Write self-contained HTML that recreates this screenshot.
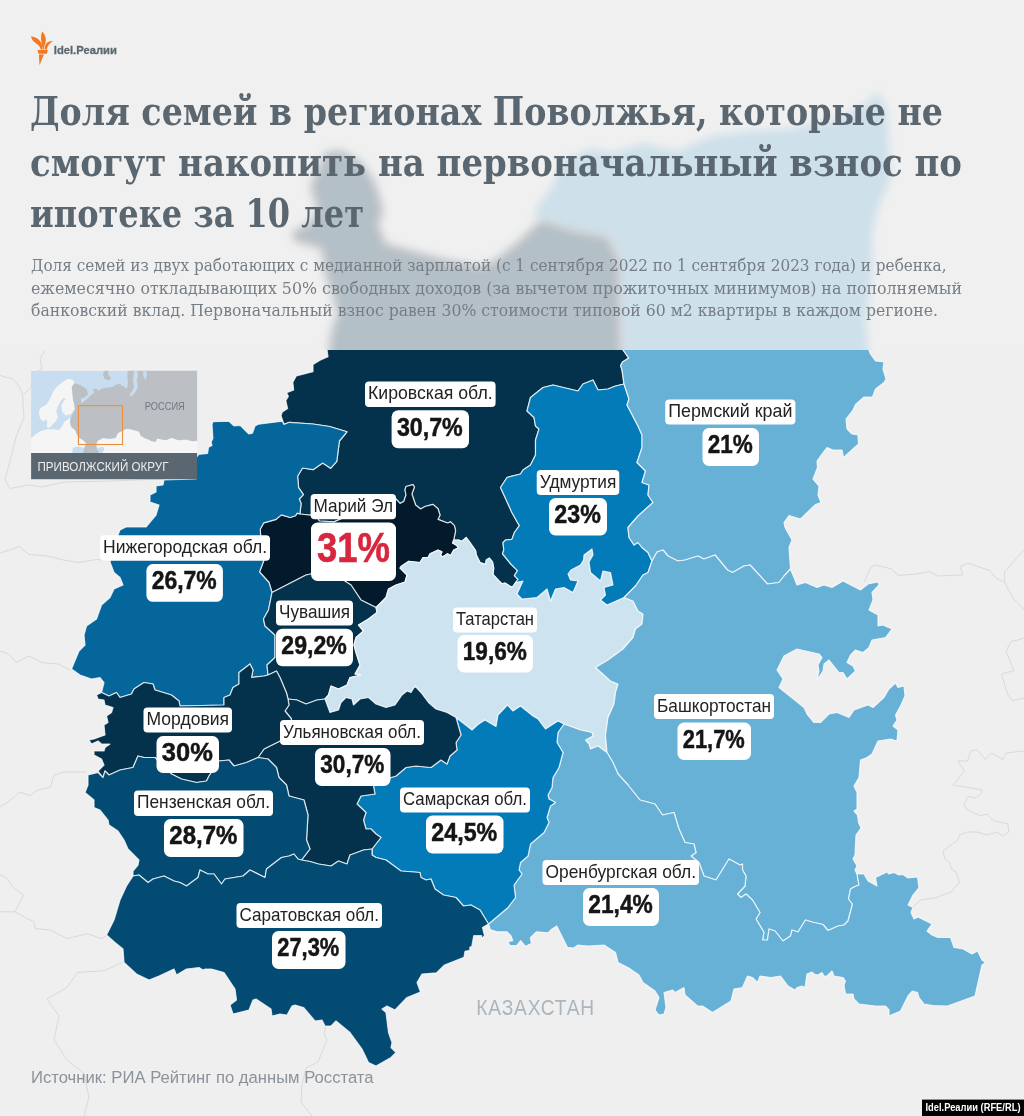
<!DOCTYPE html>
<html lang="ru"><head><meta charset="utf-8"><title>Idel.Реалии — ипотека в Поволжье</title>
<style>html,body{margin:0;padding:0;background:#efefef}svg{display:block}text{font-family:"Liberation Sans",sans-serif}.ser{font-family:"DejaVu Serif Condensed","DejaVu Serif","Liberation Serif",serif;font-stretch:condensed}.nm{font-size:18.5px;fill:#222}.vl{font-size:26.2px;font-weight:bold;fill:#151515;stroke:#151515;stroke-width:0.5px}</style></head><body>
<svg width="1024" height="1116" viewBox="0 0 1024 1116">
<defs>
<filter id="bl" x="-10%" y="-10%" width="120%" height="120%"><feGaussianBlur stdDeviation="4.3"/></filter>
<clipPath id="ctop"><rect x="0" y="0" width="1024" height="350"/></clipPath>
<clipPath id="cbot"><rect x="0" y="350" width="1024" height="770"/></clipPath>
<clipPath id="cins"><rect x="31.1" y="370.8" width="166" height="83"/></clipPath>
<g id="map" stroke="#ffffff" stroke-opacity="0.75" stroke-width="1.2" stroke-linejoin="round">
<polygon fill="#04324d" points="542,217.5 533.5,224 518.5,239 496,257.5 481,265 443.5,257.5 387,242.5 380,224 385,212.5 381.5,197.5 376,180.5 361,160 342,149 325,150.5 318,164 308.5,186 312,197.5 316,212.5 305,224 290,231 293.5,242.5 320,250 323.5,276 331,295 336,316 331,325 328,343 327.1,350.5 328,356.7 320,360.2 313,364.6 313,371.6 306,373.4 296.3,376 292.8,382.2 293.7,390 286.7,392.7 288.4,396.2 285.8,400.6 287.6,408.6 282.3,412 281,415.6 284,424.4 289.3,422.3 313,424 329.7,426.5 347,431.8 339.4,441 336.8,461.3 330.6,468.3 322.7,463 313,469.7 302.5,468 297.6,476.2 298.6,487.7 303.4,494.7 299.3,499 301.1,503.5 299.9,514 316.6,515.8 319.2,521 334.1,521.9 352,514 396,499 400,503.4 403.75,501.5 406,495 405,490 406,486.5 413,484.6 414.4,487 411.9,494 415.6,505 420.6,509 425,506.5 433,504.4 438,508.75 440,515 438,519.4 447.5,523 450.6,521.9 454.4,525.6 455.6,530.6 453.75,540 458.75,540 461.9,541.25 466.25,537.5 470,542.5 475.6,550.6 476.25,555 480,562.5 485.6,564.4 486.25,560 489.4,558 492.5,561.9 493.75,568 493,574.4 498.75,580.6 501.9,583.75 505,583 511.25,586.9 513,586.25 515.6,582.5 518,579.4 514.4,575.6 517.5,570.6 510.6,563.75 502.5,553.75 503.75,550 503,542.5 505.6,540 511.9,539.4 514.4,532.5 519.4,525.6 517.5,522.5 511.9,512.5 506.25,500 500.5,487.5 507,477.5 520.5,474 523,470 530.5,465 535.5,455 535.5,440 539,429 535.5,426 534,417.5 527,411 530.5,397.5 543,387.5 553,385 578,391 583,384 593,380 598,390 608,389 615.5,386 624,384 622,370 620.6,365.6 622.5,362 628.75,358.1 623.1,350 623,340 622,260 609.5,235 572,227.5"/>
<polygon fill="#021a2b" points="272,592.5 269,582.5 259.5,572 264,560 261,545 260.3,529 263.8,522.8 276.1,519.3 281.4,514.9 290.2,517.5 295.5,515.8 297.2,513.1 299.9,514 316.6,515.8 319.2,521 334.1,521.9 352,514 396,499 400,503.4 403.75,501.5 406,495 405,490 406,486.5 413,484.6 414.4,487 411.9,494 415.6,505 420.6,509 425,506.5 433,504.4 438,508.75 440,515 438,519.4 447.5,523 450.6,521.9 454.4,525.6 455.6,530.6 453.75,540 452.5,543 456.9,545.6 458,548 453.75,550 450.6,555.6 447.5,553.75 442.5,556.9 440.6,555 441.9,551.9 438,550 430,553.75 428,557.5 423,557.5 420,562.5 408.75,561.25 401.25,566.25 400,568 407,575 405,582 396,585 388.5,589 386,597.5 376,607.5 361,600 351,585 340,578 320,572 306,575 288.5,584"/>
<polygon fill="#04669b" points="284,424.4 289.3,422.3 313,424 329.7,426.5 347,431.8 339.4,441 336.8,461.3 330.6,468.3 322.7,463 313,469.7 302.5,468 297.6,476.2 298.6,487.7 303.4,494.7 299.3,499 301.1,503.5 299.9,514 297.2,513.1 295.5,515.8 290.2,517.5 281.4,514.9 276.1,519.3 263.8,522.8 260.3,529 261,545 264,560 259.5,572 269,582.5 272,592.5 268.5,610 263.5,619 265,626 275,635 275,657.5 267,665 268,675 264,676 251.5,677.5 253,670 250,664 239,672.5 239,684 233,687.5 230,695 224,697.5 224,705 180,706 179,701 171.5,695 155,690 153,684 144,682.5 134,689 131.5,694 120,697.5 116.5,692.5 109,696 101.5,692.5 104,682.5 100,677.5 91.5,679 80,675 71.5,669 79,651 85,645 84,635 86.5,626 96.5,619 101.5,605 110,597.5 114,589 123,585 120,577.5 114,572.5 110,562 113,548 118,535 120,530 126,527 146,527 156,515 159,505 150,502 150,495 156,492 156,486 163,485 164,480 196,479 196,458 198.8,454.3 207.6,453.4 208.5,447.2 212,445.5 211.1,442 212.9,438.4 212,424.4 212.9,421.7 229,421.2 233.9,425.8 240.1,425.3 248.9,434 252.4,433.2 255,426.1 257.7,424.4 260.3,424 282.3,421.2"/>
<polygon fill="#04324d" points="272,592.5 288.5,584 306,575 320,572 340,578 351,585 361,600 376,607.5 377,612.5 368.5,619 358.5,625 363.5,631 356,637.5 354,645 356,652.5 360,665 355,674 361,675 350,677.5 347,685 338.5,689 331,686 328.5,695 325,699 317,700 306,704 297,700 288,699 286.5,693 280,677.5 276.5,671 268,675 267,665 275,657.5 275,635 265,626 263.5,619 268.5,610"/>
<polygon fill="#cde3f0" points="376,607.5 386,597.5 388.5,589 396,585 405,582 407,575 400,568 401.25,566.25 408.75,561.25 420,562.5 423,557.5 428,557.5 430,553.75 438,550 441.9,551.9 440.6,555 442.5,556.9 447.5,553.75 450.6,555.6 453.75,550 458,548 456.9,545.6 452.5,543 453.75,540 458.75,540 461.9,541.25 466.25,537.5 470,542.5 475.6,550.6 476.25,555 480,562.5 485.6,564.4 486.25,560 489.4,558 492.5,561.9 493.75,568 493,574.4 498.75,580.6 501.9,583.75 505,583 511.25,586.9 513,586.25 515.6,582.5 523,581 517,594 522,599 537,597.5 547,589 550.5,601 555.5,589 564,587.5 573,592.5 578,581 570.5,580 568,574 571,570 580.5,565 583.5,560 584,555 592,549 593,555 589,562 590.5,572.5 600.5,581 603,571 610.5,572.5 613,585 604,587.5 605.5,595 600.5,600 607,605 624,597.5 633,601 638,611 643,614 642,624 635.5,629 633,637.5 623,649 608,660 595.5,667.5 610.5,681 618,684 615.5,692.5 614,704 608,717.5 605.5,735 607,752.5 598,746 590.5,749 589,744 585.5,740 593,736 592,732.5 580.5,730 564,724 558,721 545.5,729 538,719 533,716 520.5,706 513,711 507.5,705 498,715 496,726.5 485,720 478,724.5 472,730 465,724.5 456,717.5 447,712.5 436,709 428.5,702.5 421,692.5 415,686 411,692.5 407,691 402,695 395,705 386,707.5 376,704 368.5,697.5 360,699 353.5,705 352,699 346,697.5 341,702.5 338.5,710 330,712.5 325,699 328.5,695 331,686 338.5,689 347,685 350,677.5 361,675 355,674 360,665 356,652.5 354,645 356,637.5 363.5,631 358.5,625 368.5,619 377,612.5"/>
<polygon fill="#047bb9" points="624,384 615.5,386 608,389 598,390 593,380 583,384 578,391 553,385 543,387.5 530.5,397.5 527,411 534,417.5 535.5,426 539,429 535.5,440 535.5,455 530.5,465 523,470 520.5,474 507,477.5 500.5,487.5 506.25,500 511.9,512.5 517.5,522.5 519.4,525.6 514.4,532.5 511.9,539.4 505.6,540 503,542.5 503.75,550 502.5,553.75 510.6,563.75 517.5,570.6 514.4,575.6 518,579.4 515.6,582.5 523,581 517,594 522,599 537,597.5 547,589 550.5,601 555.5,589 564,587.5 573,592.5 578,581 570.5,580 568,574 571,570 580.5,565 583.5,560 584,555 592,549 593,555 589,562 590.5,572.5 600.5,581 603,571 610.5,572.5 613,585 604,587.5 605.5,595 600.5,600 607,605 624,597.5 635.5,586 643,575 648,572.5 652,561 648,552.5 642,547.5 638,542.5 634,545 629,537.5 628,527.5 638,516 653,502.5 648,495 649,485 642,482.5 645.5,471 637,462.5 642,447.5 642,435 638,426 627,405 629,399"/>
<polygon fill="#67b0d6" points="542,217.5 532,220 537,205 552,185 562,160 592,147.5 612,152.5 642,142.5 677,150 712,135 752,130 792,127.5 832,120 862,105 879,90 888,109 891.5,178 879,209 873,234 874,271.5 866.5,321.5 869,343 869,350.5 870.5,354 875.5,361 884,362 883,369 886,379 884,382.5 875.5,389 872.5,397 864,397 855.5,404.5 853,410 846,419 847,429 852,434 858,435 858.5,444 843.5,457.5 842,450 833,450 827,447.5 822,454 817,461 817.5,467.5 813,479 819,486 818,495 821,502.5 815.5,504.5 800.5,519 789,515.5 784,522.5 785,527.5 792,540 789,547.5 790.5,569 784,576 779,582.5 767.5,584 750,565 744,566 732.5,572.5 727.5,570 715,555 704,559 698,556 685,560 678,561 668,556 663,550 657,552 652,561 648,552.5 642,547.5 638,542.5 634,545 629,537.5 628,527.5 638,516 653,502.5 648,495 649,485 642,482.5 645.5,471 637,462.5 642,447.5 642,435 638,426 627,405 629,399 624,384 622,370 620.6,365.6 622.5,362 628.75,358.1 623.1,350 623,340 622,260 609.5,235 572,227.5"/>
<polygon fill="#67b0d6" points="652,561 657,552 663,550 668,556 678,561 685,560 698,556 704,559 715,555 727.5,570 732.5,572.5 744,566 750,565 767.5,584 779,582.5 784,576 790.5,569 794,577.5 797,585 805.5,582.5 817,587.5 824,585 832,587.5 843,581 860.5,590 868,584 878,582 879,585 872,592.5 873,600 869,610 878,615 878,626 883,625 892,629 885.5,637.5 872,640 869,647.5 863,652.5 855.5,650 850.5,655 847,662.5 853,666 855.5,671 847,679 843,672.5 839,672.5 829,660 824,664 823,671 817,680 819,671 818,665 822,657.5 819,654 797,649 784,656 777,670 783,679 779,687.5 804,707.5 807,714 814,722.5 820.5,722.5 829,714 837,712.5 849,717.5 854,710 868,705 873,707.5 884,697.5 889,689 895.5,683 898,687.5 904,686 905,696 900.5,706 895.5,715 897,720 893,726 898,730 897,741 890.5,739 878,741 872,754 867,757.5 860.5,760 859,777.5 854,786 857,792.5 857,809 854,811 857.5,815 858.5,822.5 861,828 856,835 855,855 853,859 857,866 855,870 857,874 859,885 854,887 850.5,889 848.5,899 852.5,904 848,921 844,925 838,926 828,930.5 823,924.5 812,922 805.5,920 798,932 792,930 790.5,936 783,941 775,931 769,929 767.5,940 762.5,940 764,932.5 756,919 760,912.5 752.5,900 746,894 741,897.5 737.5,894 745,886 746,876 742.5,870 742.5,864 740,865 729,859 716,880 704,876 699,862.5 691,856 696,852.5 694,844 685,842.5 679,829 674,812.5 662.5,815 655,804 640,800 632,790 628,785 618,774 613,762.5 607,752.5 605.5,735 608,717.5 614,704 615.5,692.5 618,684 610.5,681 595.5,667.5 608,660 623,649 633,637.5 635.5,629 642,624 643,614 638,611 633,601 624,597.5 635.5,586 643,575 648,572.5"/>
<polygon fill="#67b0d6" points="564,724 580.5,730 592,732.5 593,736 585.5,740 589,744 590.5,749 598,746 607,752.5 613,762.5 618,774 628,785 632,790 640,800 655,804 662.5,815 674,812.5 679,829 685,842.5 694,844 696,852.5 691,856 699,862.5 704,876 716,880 729,859 740,865 742.5,864 742.5,870 746,876 745,886 737.5,894 741,897.5 746,894 752.5,900 760,912.5 756,919 764,932.5 762.5,940 767.5,940 769,929 775,931 783,941 790.5,936 792,930 798,932 805.5,920 812,922 823,924.5 828,930.5 838,926 844,925 848,921 852.5,904 848.5,899 850.5,889 854,887 859,885 857,874 864,874 868,881 877,886 875.5,877.5 887,872 889,874 894,872.5 899,875 903,874.5 908,878 917.5,877 919,887.5 913,895 908,905 913,907.5 911,912.5 914,919 918,917 932,924 927,931 932,935 938,937.5 950.5,937.5 954,947.5 963,949 972,954 977.5,951 982,960 985.5,962.5 982,965 975,996 947.5,1006 933,1005.5 924,1004 919,997.5 917.5,992.5 912.5,991 908,996 900.5,1011 889,1016 889,1010 885.5,1006 875.5,1006 859,1004 854,999 853,994 845.5,994 844,985 845.5,981 843,977.5 834,976 832,971 827,976 824,976 822,972.5 818,975 814,974 812,972 807,974 805,987.5 802,986 797,987.5 795,990 788,986 780.5,976 771,977.5 760,976 757.5,982.5 752.5,977.5 747.5,976 742.5,987.5 734,989 731,1001 712.5,1012.5 702.5,1006 697.5,1006 685,995 684,987.5 675,992.5 672.5,990 664,992.5 666,1007.5 664,1014 659,1015 655,1010 659,997.5 655,991 643,982.5 639,975 628,967.5 618,962.5 615.5,952.5 604,945 588,946 578,945 573.4,948 567.5,947.4 556.8,925.9 551.9,928.9 548,932.8 536.25,931.8 530.4,937.7 531.4,943.5 525.5,946.4 520.6,940.6 516.7,945.5 509.9,945.5 507.9,941.6 512.8,940.6 510.9,935.7 507,931.8 497.2,931.8 490.4,929.8 488.5,924 508,907.5 515.5,897.5 514,885 522,874 519,870 520.5,862.5 528,856 530.5,844 544,832.5 549,822.5 547,817.5 550.5,806 555.5,802.5 549,799 548,795 552,787.5 553,777.5 559,767.5 563,752.5 557,742.5 558,732.5"/>
<polygon fill="#047bb9" points="456,717.5 465,724.5 472,730 478,724.5 485,720 496,726.5 498,715 507.5,705 513,711 520.5,706 533,716 538,719 545.5,729 558,721 564,724 558,732.5 557,742.5 563,752.5 559,767.5 553,777.5 552,787.5 548,795 549,799 555.5,802.5 550.5,806 547,817.5 549,822.5 544,832.5 530.5,844 528,856 520.5,862.5 519,870 522,874 514,885 515.5,897.5 508,907.5 488.5,924 480,910 471,905 463.5,906 456,897.5 443.5,895 435,889 431,879 426,880 421,877.5 420,872.5 401,871 386,860 376,857.5 372,855 372,849 381,837.5 376,834 371,829 366,829 363.5,820 366,812.5 357,804 361,796 375,794 373.5,786 391,777.5 396,776 406,767.5 416,766 431,767.5 441,760 447,764 450,756 457,750 456,742.5 461,735"/>
<polygon fill="#04324d" points="288,699 297,700 306,704 317,700 325,699 330,712.5 338.5,710 341,702.5 346,697.5 352,699 353.5,705 360,699 368.5,697.5 376,704 386,707.5 395,705 402,695 407,691 411,692.5 415,686 421,692.5 428.5,702.5 436,709 447,712.5 456,717.5 461,735 456,742.5 457,750 450,756 447,764 441,760 431,767.5 416,766 406,767.5 396,776 391,777.5 373.5,786 375,794 361,796 357,804 366,812.5 363.5,820 366,829 371,829 376,834 381,837.5 372,849 372,855 372,849 363.5,850 357,852.5 350,855 347,864 338.5,861 331,866 318.5,864 310,861.5 301.5,860 310,849 306.5,840 308,815 304,800 289,796 286.5,785 279,777.5 276.5,767.5 268,759 258,757.5 264,749 280,741 286,730 291.5,719 285,711 289,705"/>
<polygon fill="#04324d" points="101.5,692.5 109,696 116.5,692.5 120,697.5 131.5,694 134,689 144,682.5 153,684 155,690 171.5,695 179,701 180,706 224,705 224,697.5 230,695 233,687.5 239,684 239,672.5 250,664 253,670 251.5,677.5 264,676 268,675 276.5,671 280,677.5 286.5,693 288,699 289,705 285,711 291.5,719 286,730 280,741 264,749 258,757.5 246.5,762.5 234,766 229,760 219,761 209,776 206.5,781 196.5,782.5 181.5,779 171.5,774 155,757.5 144,757.5 138,756 133,767.5 120,770 109,775 105,771 103,777.5 98,771 104,765 101.5,759 94,755 94,751 104,751 105,747.5 110,744 101.5,744 98,741 91.5,744 89,740 94,739 105,735 104,725 108,722.5 106.5,716 111.5,712.5 113,707.5 105,705 104,700 98,699 96.5,695"/>
<polygon fill="#034b73" points="103,777.5 105,771 109,775 120,770 133,767.5 138,756 144,757.5 155,757.5 171.5,774 181.5,779 196.5,782.5 206.5,781 209,776 219,761 229,760 234,766 246.5,762.5 258,757.5 268,759 276.5,767.5 279,777.5 286.5,785 289,796 304,800 308,815 306.5,840 310,849 301.5,860 298,859 294,854 289,856 281.5,857.5 273,864 266.5,869 265,877.5 250,870 243,876 225,879 221.5,884 214,874 208,874 200,870 198,877.5 186.5,886 180,882.5 174,881 164,876 153,879 148,882.5 139,875 133,876 133,871 138,865 139,860 128,849 124,840 118,831 109,825 108,820 100,810 94,807.5 94,800 85,792.5 88,785 88,775 98,772.5"/>
<polygon fill="#034b73" points="133,876 139,875 148,882.5 153,879 164,876 174,881 180,882.5 186.5,886 198,877.5 200,870 208,874 214,874 221.5,884 225,879 243,876 250,870 265,877.5 266.5,869 273,864 281.5,857.5 289,856 294,854 298,859 301.5,860 310,861.5 318.5,864 331,866 338.5,861 347,864 350,855 357,852.5 363.5,850 372,849 372,855 376,857.5 386,860 401,871 420,872.5 421,877.5 426,880 431,879 435,889 443.5,895 456,897.5 463.5,906 471,905 480,910 488.5,924 482.5,927.5 484.5,935.7 481.6,938.6 481.6,935.7 473.75,935.7 471.8,946.4 469.8,947.4 469.8,950.4 465,951.3 464,957.2 444.5,965 436.6,972.8 422,974 417,982.5 420.5,992 407,997.5 395,1010 387,1006 382,1009 386,1012.5 388.5,1032.5 392,1042.5 391,1047.5 396,1052.5 391,1057.5 376,1066 368.5,1062.5 362,1049 350,1032.5 336,1021 331,1026 325,1026 322,1020 315,1021 303.5,1007.5 295,1005 292,1006 287,1015 280,1014 272,1016 271,1009 256,999 253,1000 249,1010 233,1014 230,1005 236.5,1000 235,989 224,972.5 211.5,969 205,969 203,970 199,967.5 186.5,969 176.5,975 174,969 159,976 149,980 136.5,974 124,962.5 123,949 115,942.5 106.5,935 114,920 120,900 126.5,886"/>
</g>
</defs>
<rect width="1024" height="1116" fill="#efefef"/>
<g opacity="0.999">
<g fill="none" stroke="#d9d9d9" stroke-width="1" stroke-linejoin="round">
<polyline points="45,350 40,359 42,369 35.5,372 30.6,388 22.5,395 24,417.5 16,437 9.7,462.5 5,479 9.7,488.5 29,485 42,487 64.5,482 110,481 164,479"/>
<polyline points="0,375.5 13,379 20,388 22.5,395"/>
<polyline points="0,553 9.7,550 19,546.5 29,554.5 48,556 61,559.5 77.4,562.5 96.8,559.5 110,561"/>
<polyline points="0,651 9.7,654.5 16,662.5 29,656 42,662.5 58,664 71,670.5"/>
<polyline points="0,807 10,800.6 20,792 30,795.6 37,790.5 50.5,787 54,775 64,772 86,772"/>
<polyline points="0,874.7 6.7,878 13.5,888 23.6,895 15,911.8 0,911.8"/>
<polyline points="15,911.8 33.7,922 35.4,928.6 50.5,930 67,938.7 87.6,933.7 101,938.7 107.8,935"/>
<polyline points="123,962 104.4,970.7 77.5,972.4 67,987.5 47,999 59,1016 54,1039.8 67,1060 84,1073.4 89,1097 84,1116"/>
<polyline points="864.3,582 870.7,567.4 875.6,565 891.7,569 898,575.5 916,574 928.8,571.6 938.5,576 962.7,574.9 960.4,566.5 967.5,563 980.4,567.4 990,570.7 996.6,578.7 1004.6,582 1012.7,598 1019,604.5 1024,609"/>
<polyline points="1004.6,582 1004.6,572 1012.7,562.6 1024,549.7"/>
<polyline points="1024,638.4 1011,641.6 1006,651 1014,670.7 1001.4,674 1007.9,694.9 1012.7,700.7 1024,698"/>
<polyline points="1024,751 1006,753 1003,759.4 996.6,756 991.7,753 985.3,759.4 977,749.7 970.7,751 967.5,761 957.8,761 964.3,770.7 956,782 953,785 974,788.5 982,790 982,793 975.6,798 967.5,796.5 964.3,804.6 966,809 980.4,815.9 987,814 993.3,820.7 1007.9,824 1008.8,832 1003,836 996.6,832 987,835 977,832 967.5,832 959.5,835 957.8,840 943,851 945,859.5 949.8,862.7 951.4,869 956,872 959.5,882 951.4,891.7 935,898 920,900 913,907"/>
<polyline points="326,1026 324,1034 327,1040 322,1052 318,1062 306,1068 302,1085 301,1102 312,1116"/>
</g>
<g clip-path="url(#ctop)"><g filter="url(#bl)"><use href="#map"/></g><rect width="1024" height="351" fill="#f0f0f0" fill-opacity="0.75"/></g>
<g clip-path="url(#cbot)"><use href="#map"/></g>
<g clip-path="url(#cins)">
<rect x="31" y="370.8" width="166.2" height="83" fill="#c8ddef"/>
<polygon fill="#f5f5f5" points="30.5,438.625 35.5,434.25 40.5,431.125 46.75,429.25 53,429.25 59.25,429.875 61.75,426.75 64.25,421.75 69.875,418 71.125,426.75 75.5,430.5 76.75,434.25 79.25,438 83,439.875 86.125,443 84.25,448 78,446.125 73,448 71.75,454.25 30.5,454.25"/>
<polygon fill="#f5f5f5" points="39.25,410.5 40.5,408 46.75,404.25 50.5,398 53,391.75 56.75,386.75 63,381.75 68,378.625 73,379.875 74.5,383 71.75,386.75 72.375,393 73,399.25 74.25,404.25 74.875,409.25 70.5,414.25 65.5,415.5 62,411.75 61.25,405.5 63.625,401.125 65.75,399.25 63.75,398 61.125,400.5 57.5,406.75 56.25,411.75 58,416.75 56.25,420.5 53,424.25 49.25,428 46.75,426.75 47.375,421.75 45.5,419.25 43,421.75 39.875,418 39,413"/>
<polygon fill="#f5f5f5" points="99.25,454.25 96.75,448 96.125,444.25 98,440.5 103,438 109.25,438.625 115.5,438 118,433 123,430.5 126.75,428.625 130.5,429.25 135.5,430.5 139.25,431.75 140.5,435.5 144.25,438 148,439.25 151.75,441.125 156,441.75 156.974,438.573 165.959,440.37 171.35,437.675 178.537,440.37 185.725,439.472 192.913,441.269 199.202,440.19 203,454.25"/>
<polygon fill="#c8ddef" points="97.375,448 103,446.75 104.5,449.25 101.125,454.25 98,454.25"/>
<polygon fill="#bcc0c4" points="71.75,386.75 74.5,383.25 80.5,384.875 86.75,389.25 88.25,394.25 84.25,397.375 80.5,398.625 81.75,403.25 86.75,399.25 90.5,395.5 94.25,392.375 93,389.25 96.75,388.625 98,390.75 103,388 108,387.375 113,386.75 115.5,384.875 119.25,383.625 124.25,386.75 126.75,388.625 128,383 127.375,375.5 128,369.25 203,369.25 199.202,440.19 192.913,441.269 185.725,439.472 178.537,440.37 171.35,437.675 165.959,440.37 156.974,438.573 156,441.75 151.75,441.125 148,439.25 144.25,438 140.5,435.5 139.25,431.75 135.5,430.5 130.5,429.25 126.75,428.625 123,430.5 118,433 115.5,438 109.25,438.625 103,438 98,440.5 96.125,444.25 96.75,448 99.25,454.25 83,454.25 84.25,448 86.125,443 83,439.875 79.25,438 76.75,434.25 75.5,430.5 71.125,426.75 69.875,421.75 71.75,415.5 74.875,409.25 74.25,404.25 73,399.25 72.375,393"/>
<polygon fill="#bcc0c4" points="105.5,369.25 103,374.25 104.25,378.625 109.25,380.5 111.25,378 108,374.25 108.75,369.25"/>
<polygon fill="#c8ddef" points="134.25,369.25 133,380.5 134.25,386.75 131.75,391.75 129,394.875 131.75,396.25 135.5,391.75 138,386.75 136.75,380.5 138,375.5 137,369.25"/>
<polygon fill="#c8ddef" points="143.625,369.25 143.25,375.5 145.5,380.5 146.75,375.5 146.125,369.25"/>
</g>
<rect x="78.4" y="405.7" width="44.1" height="38.8" fill="none" stroke="#e8903c" stroke-width="1.1"/>
<text x="144.8" y="409.9" font-size="10.8" fill="#70777d" textLength="40" lengthAdjust="spacingAndGlyphs">РОССИЯ</text>
<rect x="31.1" y="453" width="166" height="26.2" fill="#5b6770"/>
<text x="37.5" y="471.3" font-size="13.6" fill="#ececec" textLength="131" lengthAdjust="spacingAndGlyphs">ПРИВОЛЖСКИЙ ОКРУГ</text>
<rect x="365" y="381.5" width="130.6" height="25.5" rx="4" fill="#fff"/>
<text class="nm" x="368" y="399.2" textLength="124.6" lengthAdjust="spacingAndGlyphs">Кировская обл.</text>
<rect x="391.6" y="410.3" width="77.4" height="37.9" rx="6.5" fill="#fff"/>
<text class="vl" x="396.9" y="435.6" textLength="65.9" lengthAdjust="spacingAndGlyphs">30,7%</text>
<rect x="310.6" y="494" width="85.4" height="25.2" rx="4" fill="#fff"/>
<text class="nm" x="313.6" y="511.7" textLength="79.4" lengthAdjust="spacingAndGlyphs">Марий Эл</text>
<rect x="311" y="522.5" width="85" height="58.4" rx="6.5" fill="#fff"/>
<text x="317" y="561.5" font-size="42" font-weight="bold" fill="#d7263d" stroke="#d7263d" stroke-width="0.6" textLength="73" lengthAdjust="spacingAndGlyphs">31%</text>
<rect x="100" y="535.3" width="170" height="25.4" rx="4" fill="#fff"/>
<text class="nm" x="103" y="553" textLength="164" lengthAdjust="spacingAndGlyphs">Нижегородская обл.</text>
<rect x="146.4" y="564.1" width="76.5" height="37.7" rx="6.5" fill="#fff"/>
<text class="vl" x="151.7" y="589.4" textLength="65" lengthAdjust="spacingAndGlyphs">26,7%</text>
<rect x="276" y="600.6" width="77" height="25" rx="4" fill="#fff"/>
<text class="nm" x="279" y="618.3" textLength="71" lengthAdjust="spacingAndGlyphs">Чувашия</text>
<rect x="276" y="628.7" width="77" height="37.5" rx="6.5" fill="#fff"/>
<text class="vl" x="281.3" y="654" textLength="65.5" lengthAdjust="spacingAndGlyphs">29,2%</text>
<rect x="453" y="607.5" width="84" height="25" rx="4" fill="#fff"/>
<text class="nm" x="456" y="625.2" textLength="78" lengthAdjust="spacingAndGlyphs">Татарстан</text>
<rect x="457.5" y="635" width="75.5" height="37.5" rx="6.5" fill="#fff"/>
<text class="vl" x="462.8" y="660.3" textLength="64" lengthAdjust="spacingAndGlyphs">19,6%</text>
<rect x="536.75" y="470" width="82.5" height="25" rx="4" fill="#fff"/>
<text class="nm" x="539.75" y="487.7" textLength="76.5" lengthAdjust="spacingAndGlyphs">Удмуртия</text>
<rect x="549" y="498" width="58" height="37.5" rx="6.5" fill="#fff"/>
<text class="vl" x="554.3" y="523.3" textLength="46.5" lengthAdjust="spacingAndGlyphs">23%</text>
<rect x="665.2" y="399.6" width="130.2" height="24.8" rx="4" fill="#fff"/>
<text class="nm" x="668.2" y="417.3" textLength="124.2" lengthAdjust="spacingAndGlyphs">Пермский край</text>
<rect x="702.5" y="428" width="56.5" height="38" rx="6.5" fill="#fff"/>
<text class="vl" x="707.8" y="453.3" textLength="45" lengthAdjust="spacingAndGlyphs">21%</text>
<rect x="654" y="694" width="120" height="25" rx="4" fill="#fff"/>
<text class="nm" x="657" y="711.7" textLength="114" lengthAdjust="spacingAndGlyphs">Башкортостан</text>
<rect x="677.5" y="722.5" width="73.5" height="37.5" rx="6.5" fill="#fff"/>
<text class="vl" x="682.8" y="747.8" textLength="62" lengthAdjust="spacingAndGlyphs">21,7%</text>
<rect x="143.5" y="707.5" width="88.5" height="25" rx="4" fill="#fff"/>
<text class="nm" x="146.5" y="725.2" textLength="82.5" lengthAdjust="spacingAndGlyphs">Мордовия</text>
<rect x="156.5" y="736" width="62.5" height="37" rx="6.5" fill="#fff"/>
<text class="vl" x="161.8" y="761.3" textLength="51" lengthAdjust="spacingAndGlyphs">30%</text>
<rect x="134" y="790.5" width="139" height="25.5" rx="4" fill="#fff"/>
<text class="nm" x="137" y="808.2" textLength="133" lengthAdjust="spacingAndGlyphs">Пензенская обл.</text>
<rect x="164" y="819" width="79.5" height="38" rx="6.5" fill="#fff"/>
<text class="vl" x="169.3" y="844.3" textLength="68" lengthAdjust="spacingAndGlyphs">28,7%</text>
<rect x="280" y="720" width="144" height="25" rx="4" fill="#fff"/>
<text class="nm" x="283" y="737.7" textLength="138" lengthAdjust="spacingAndGlyphs">Ульяновская обл.</text>
<rect x="315" y="748" width="75.5" height="38" rx="6.5" fill="#fff"/>
<text class="vl" x="320.3" y="773.3" textLength="64" lengthAdjust="spacingAndGlyphs">30,7%</text>
<rect x="400" y="787.5" width="130" height="25" rx="4" fill="#fff"/>
<text class="nm" x="403" y="805.2" textLength="124" lengthAdjust="spacingAndGlyphs">Самарская обл.</text>
<rect x="426" y="815.5" width="77.5" height="38" rx="6.5" fill="#fff"/>
<text class="vl" x="431.3" y="840.8" textLength="66" lengthAdjust="spacingAndGlyphs">24,5%</text>
<rect x="236.5" y="903" width="145.5" height="25" rx="4" fill="#fff"/>
<text class="nm" x="239.5" y="920.7" textLength="139.5" lengthAdjust="spacingAndGlyphs">Саратовская обл.</text>
<rect x="272" y="931" width="73.5" height="38" rx="6.5" fill="#fff"/>
<text class="vl" x="277.3" y="956.3" textLength="62" lengthAdjust="spacingAndGlyphs">27,3%</text>
<rect x="542.5" y="860" width="156.5" height="25" rx="4" fill="#fff"/>
<text class="nm" x="545.5" y="877.7" textLength="150.5" lengthAdjust="spacingAndGlyphs">Оренбургская обл.</text>
<rect x="583" y="888" width="76" height="38" rx="6.5" fill="#fff"/>
<text class="vl" x="588.3" y="913.3" textLength="64.5" lengthAdjust="spacingAndGlyphs">21,4%</text>
<text transform="translate(476.2,1015) scale(1,1.135)" font-size="19.2" fill="#adb5bc" textLength="118" lengthAdjust="spacing">КАЗАХСТАН</text>
<g transform="translate(0,0)" fill="#f5771f">
<path d="M37.5 50 L47.8 50 L46.9 53.8 L38.4 53.8 Z"/>
<path d="M38.9 54.6 L43.9 54.6 L39.5 65.2 Z"/>
<path d="M31 36.2 C33.5 36.4 38.5 38.2 40.8 42 C42 44 42.4 46.6 41.9 49.4 L40.6 49.4 C40.4 46 37.4 44.2 35 42.4 C32.8 40.8 31.4 38.6 31 36.2 Z"/>
<path d="M42.2 31.4 C45.6 35 46.8 39.6 45 44 C44.4 45.8 43.9 47.4 43.8 49.4 L42.4 49.4 C42.6 46.4 41.9 44 41.4 41.6 C40.8 38.2 40.8 34.8 42.2 31.4 Z"/>
<path d="M52.9 41 C49 40.8 46.2 42.6 45.2 45.4 C44.7 46.8 44.5 48.2 44.6 49.4 L46.8 49.4 C47.2 46 49.6 43 52.9 41 Z"/>
</g>
<text x="53.8" y="54" font-size="11.7" font-weight="bold" fill="#5b6770" stroke="#5b6770" stroke-width="0.3" textLength="63" lengthAdjust="spacingAndGlyphs">Idel.Реалии</text>
<g class="ser" font-weight="bold" font-size="38.4" fill="#5b6770">
<text class="ser" x="30" y="124.8" textLength="913" lengthAdjust="spacingAndGlyphs">Доля семей в регионах Поволжья, которые не</text>
<text class="ser" x="30" y="176.2" textLength="932" lengthAdjust="spacingAndGlyphs">смогут накопить на первоначальный взнос по</text>
<text class="ser" x="30" y="227.4" textLength="334" lengthAdjust="spacingAndGlyphs">ипотеке за 10 лет</text>
</g>
<g class="ser" font-size="17.1" fill="#757d85">
<text class="ser" x="31" y="271.3" textLength="915.5" lengthAdjust="spacingAndGlyphs">Доля семей из двух работающих с медианной зарплатой (с 1 сентября 2022 по 1 сентября 2023 года) и ребенка,</text>
<text class="ser" x="31" y="293.6" textLength="931" lengthAdjust="spacingAndGlyphs">ежемесячно откладывающих 50% свободных доходов (за вычетом прожиточных минимумов) на пополняемый</text>
<text class="ser" x="31" y="315.8" textLength="907" lengthAdjust="spacingAndGlyphs">банковский вклад. Первоначальный взнос равен 30% стоимости типовой 60 м2 квартиры в каждом регионе.</text>
</g>
<text x="31" y="1083.3" font-size="17.4" fill="#8b9299" textLength="342.5" lengthAdjust="spacingAndGlyphs">Источник: РИА Рейтинг по данным Росстата</text>
<rect x="922" y="1099.6" width="102" height="17" fill="#000"/>
<text x="925.5" y="1111" font-size="10" font-weight="bold" fill="#fff" textLength="95" lengthAdjust="spacingAndGlyphs">Idel.Реалии (RFE/RL)</text>
</g>
</svg></body></html>
